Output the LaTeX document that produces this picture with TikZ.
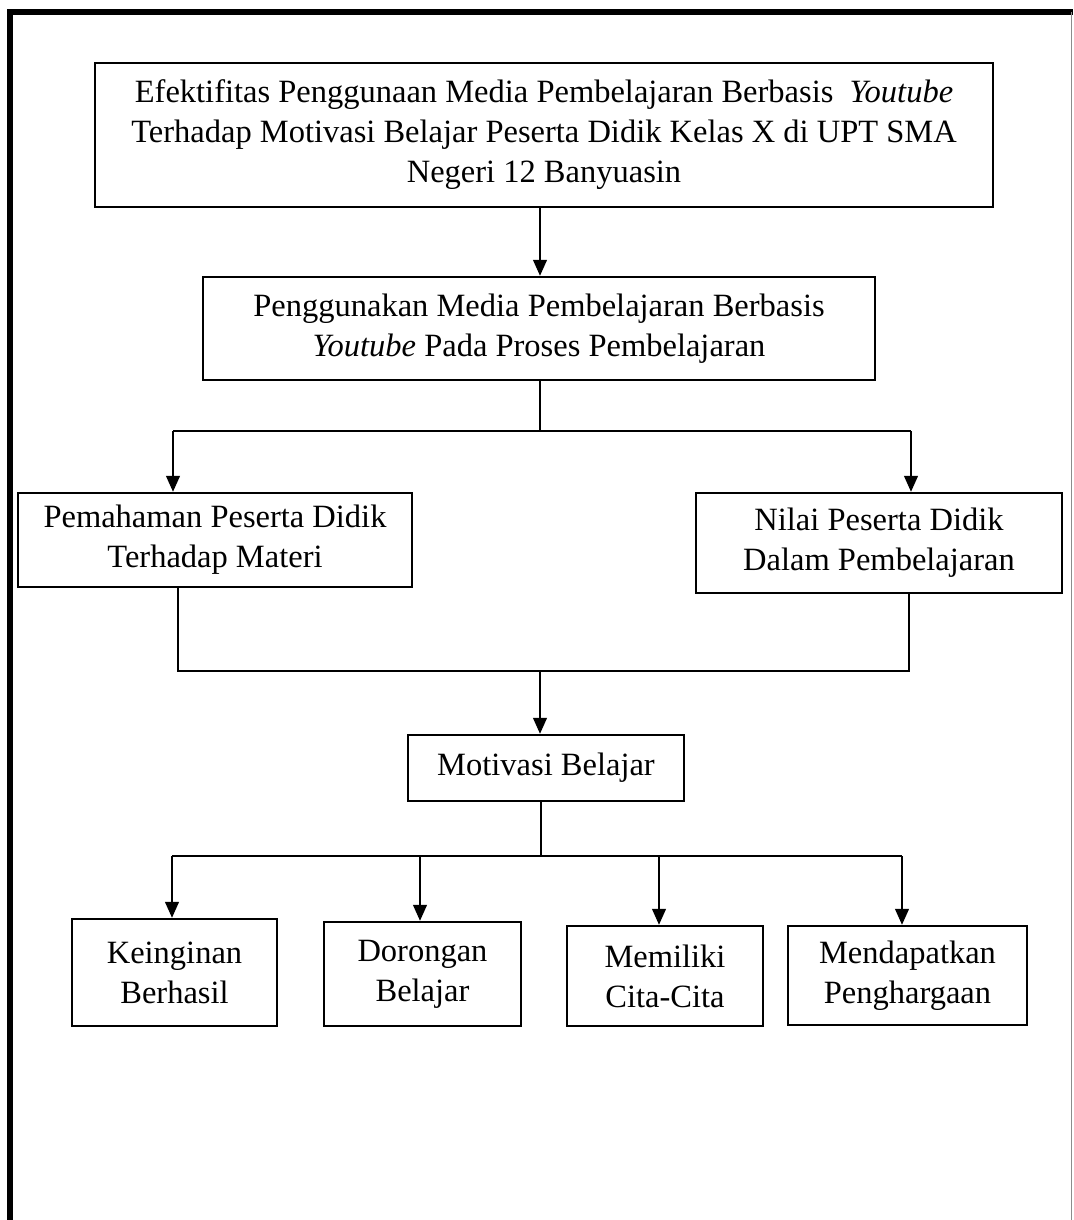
\documentclass[tikz,border=0pt]{standalone}
\usepackage{fontspec}
\setmainfont{Liberation Serif}
\usetikzlibrary{arrows.meta}

\tikzset{
  kotak/.style={draw, line width=2.5pt, align=center, inner sep=0pt, font=\fontsize{32.5}{40}\selectfont},
  panah/.style={line width=1.3pt, -{Triangle[length=16pt,width=14pt]}},
  garis/.style={line width=1.3pt},
}

\begin{document}
\begin{tikzpicture}[x=1pt,y=-1pt]
\useasboundingbox (0,0) rectangle (1073,1220);

% bingkai luar
\draw[line width=6pt] (9.5,1220) -- (9.5,12.5) -- (1073,12.5);
\draw[line width=1.5pt, black!45] (1071.5,12.5) -- (1071.5,1220);

% kotak-kotak
\node[kotak, minimum width=898pt, minimum height=144pt] (judul) at (544,135)
  {Efektifitas Penggunaan Media Pembelajaran Berbasis\ \ \textit{Youtube}\\
   Terhadap Motivasi Belajar Peserta Didik Kelas X di UPT SMA\\
   Negeri 12 Banyuasin};
\node[kotak, minimum width=672pt, minimum height=103pt] (media) at (539,328.5)
  {Penggunakan Media Pembelajaran Berbasis\\
   \textit{Youtube} Pada Proses Pembelajaran};
\node[kotak, minimum width=394pt, minimum height=94pt] (paham) at (215,540)
  {Pemahaman Peserta Didik\\ Terhadap Materi};
\node[kotak, minimum width=366pt, minimum height=100pt] (nilai) at (879,543)
  {Nilai Peserta Didik\\ Dalam Pembelajaran};
\node[kotak, minimum width=276pt, minimum height=66pt] (motivasi) at (546,768)
  {Motivasi Belajar};
\node[kotak, minimum width=205pt, minimum height=107pt] (ingin) at (174.5,972.5)
  {Keinginan\\ Berhasil};
\node[kotak, minimum width=197pt, minimum height=104pt] (dorong) at (422.5,974)
  {Dorongan\\ Belajar};
\node[kotak, minimum width=196pt, minimum height=100pt] (cita) at (665,976)
  {Memiliki\\ Cita-Cita};
\node[kotak, minimum width=239pt, minimum height=99pt] (harga) at (907.5,975.5)
  {Mendapatkan\\ Penghargaan};

% titik percabangan
\coordinate (c1) at (540,431);
\coordinate (c1l) at (173,431);
\coordinate (c1r) at (911,431);
\coordinate (c2l) at (178,671);
\coordinate (c2r) at (909,671);
\coordinate (c2) at (540,671);
\coordinate (c3) at (541,856);
\coordinate (c3a) at (172,856);
\coordinate (c3b) at (420,856);
\coordinate (c3c) at (659,856);
\coordinate (c3d) at (902,856);

% penghubung
\draw[panah] (c1 |- judul.south) -- (c1 |- media.north);
\draw[garis] (c1 |- media.south) -- (c1);
\draw[garis] (c1l) -- (c1r);
\draw[panah] (c1l) -- (c1l |- paham.north);
\draw[panah] (c1r) -- (c1r |- nilai.north);

\draw[garis] (c2l |- paham.south) -- (c2l) -- (c2r) -- (c2r |- nilai.south);
\draw[panah] (c2) -- (c2 |- motivasi.north);

\draw[garis] (c3 |- motivasi.south) -- (c3);
\draw[garis] (c3a) -- (c3d);
\draw[panah] (c3a) -- (c3a |- ingin.north);
\draw[panah] (c3b) -- (c3b |- dorong.north);
\draw[panah] (c3c) -- (c3c |- cita.north);
\draw[panah] (c3d) -- (c3d |- harga.north);
\end{tikzpicture}
\end{document}
